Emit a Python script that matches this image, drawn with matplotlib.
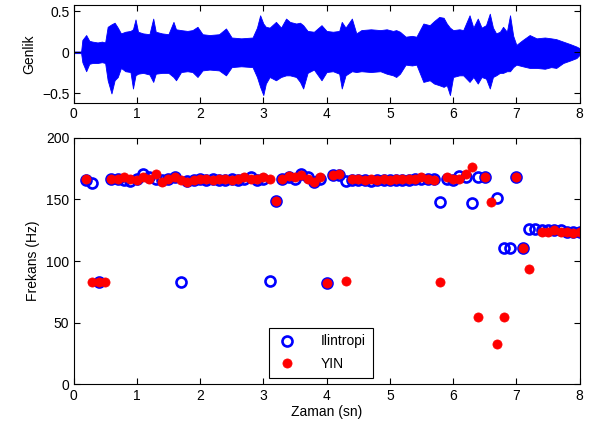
import numpy as np
import matplotlib
matplotlib.use("Agg")
import matplotlib.pyplot as plt

plt.rcParams['font.family'] = ['Liberation Sans', 'DejaVu Sans']
plt.rcParams['font.size'] = 10

# --- waveform envelope (seconds, upper / lower amplitude) ---
wave_t = [0.00, 0.12, 0.14, 0.20, 0.25, 0.30, 0.38, 0.45, 0.50, 0.54,
          0.60, 0.65, 0.70, 0.75, 0.82, 0.90, 0.94, 0.98, 1.02, 1.10,
          1.20, 1.26, 1.30, 1.40, 1.50, 1.58, 1.62, 1.70, 1.80, 1.88,
          1.96, 2.04, 2.15, 2.30, 2.41, 2.50, 2.65, 2.83, 2.90, 2.95,
          3.00, 3.04, 3.10, 3.20, 3.28, 3.36, 3.42, 3.52, 3.58, 3.63,
          3.70, 3.80, 3.92, 4.00, 4.10, 4.20, 4.24, 4.30, 4.40, 4.47,
          4.55, 4.70, 4.85, 4.95, 5.05, 5.10, 5.16, 5.25, 5.35, 5.42,
          5.53, 5.63, 5.70, 5.78, 5.85, 5.90, 5.95, 6.00, 6.10, 6.16,
          6.26, 6.32, 6.39, 6.45, 6.52, 6.58, 6.63, 6.68, 6.74, 6.79,
          6.85, 6.90, 6.95, 7.00, 7.10, 7.21, 7.32, 7.45, 7.55, 7.63,
          7.74, 7.85, 7.95, 8.00]
wave_upper = [0.01, 0.01, 0.15, 0.21, 0.14, 0.13, 0.12, 0.13, 0.12, 0.31,
              0.34, 0.36, 0.30, 0.23, 0.25, 0.26, 0.28, 0.40, 0.25, 0.23,
              0.22, 0.41, 0.25, 0.23, 0.22, 0.37, 0.28, 0.27, 0.26, 0.27,
              0.31, 0.22, 0.21, 0.22, 0.29, 0.18, 0.17, 0.18, 0.30, 0.45,
              0.35, 0.31, 0.30, 0.37, 0.30, 0.41, 0.37, 0.35, 0.36, 0.33,
              0.26, 0.25, 0.33, 0.26, 0.25, 0.26, 0.37, 0.30, 0.41, 0.23,
              0.27, 0.28, 0.27, 0.28, 0.26, 0.27, 0.25, 0.19, 0.20, 0.19,
              0.35, 0.33, 0.38, 0.43, 0.42, 0.35, 0.30, 0.27, 0.28, 0.27,
              0.45, 0.30, 0.41, 0.30, 0.33, 0.47, 0.30, 0.23, 0.25, 0.31,
              0.25, 0.45, 0.20, 0.09, 0.15, 0.21, 0.17, 0.18, 0.17, 0.16,
              0.13, 0.10, 0.07, 0.05]
wave_lower = [-0.01, -0.01, -0.12, -0.23, -0.14, -0.13, -0.13, -0.12, -0.13, -0.34,
              -0.50, -0.34, -0.30, -0.19, -0.23, -0.24, -0.44, -0.28, -0.26, -0.25,
              -0.27, -0.36, -0.26, -0.25, -0.25, -0.30, -0.34, -0.24, -0.23, -0.24,
              -0.30, -0.22, -0.21, -0.22, -0.28, -0.18, -0.17, -0.18, -0.30, -0.42,
              -0.52, -0.38, -0.30, -0.34, -0.30, -0.28, -0.28, -0.30, -0.36, -0.44,
              -0.25, -0.21, -0.34, -0.24, -0.23, -0.26, -0.44, -0.28, -0.23, -0.24,
              -0.23, -0.24, -0.23, -0.26, -0.28, -0.30, -0.26, -0.15, -0.16, -0.15,
              -0.36, -0.34, -0.38, -0.40, -0.42, -0.40, -0.52, -0.30, -0.28, -0.28,
              -0.36, -0.30, -0.38, -0.30, -0.32, -0.44, -0.30, -0.28, -0.25, -0.25,
              -0.23, -0.23, -0.18, -0.15, -0.17, -0.19, -0.19, -0.20, -0.18, -0.19,
              -0.13, -0.10, -0.07, -0.03]

# --- pitch tracks, one value per 0.1 s frame from 0.2 s to 8.0 s (nan = unvoiced) ---
nan = np.nan
frame_t = np.round(np.arange(0.2, 8.0001, 0.1), 1)
f0_ilintropi = [166, 163, 83, nan, 167, 167, 166, 165, 167, 171,
                168, 167, 166, 167, 168, 83, 165, 166, 167, 166,
                167, 166, 166, 167, 166, 167, 168, 166, 167, 84,
                149, 167, 168, 167, 171, 168, 164, 167, 82, 170,
                170, 165, 166, 166, 166, 165, 166, 166, 166, 166,
                166, 166, 167, 167, 167, 167, 148, 167, 166, 169,
                168, 147, 168, 168, nan, 151, 111, 111, 168, 111,
                126, 126, 125, 125, 125, 125, 124, 124, 124]
f0_yin = [167, 83, 83, 83, 167, 167, 168, 167, 166, 168,
          167, 171, 164, 167, 168, 166, 164, 166, 167, 167,
          166, 167, 167, 166, 167, 168, 167, 167, 168, 167,
          149, 167, 169, 168, 170, 167, 164, 168, 82, 170,
          171, 84, 167, 167, 166, 167, 166, 167, 166, 167,
          167, 167, 167, 168, 167, 166, 83, 168, 167, 167,
          171, 176, 55, 168, 148, 33, 55, nan, 168, 111,
          94, nan, 124, 124, 125, 124, 124, 123, 124]

fig = plt.figure(figsize=(5.89, 4.28), dpi=100)
ax1 = fig.add_axes([0.1248, 0.7586, 0.8593, 0.2297])
ax2 = fig.add_axes([0.1248, 0.1019, 0.8593, 0.5760])

# waveform
ax1.fill_between(wave_t, wave_lower, wave_upper, color='#0000ff', lw=0.6)
ax1.set_xlim(0, 8)
ax1.set_ylim(-0.62, 0.575)
ax1.set_yticks([-0.5, 0, 0.5])
ax1.set_yticklabels(['\u22120.5', '0', '0.5'])
ax1.set_xticks(range(0, 9))
ax1.set_ylabel('Genlik')

# pitch estimates
ax2.plot(frame_t, f0_ilintropi, linestyle='none', marker='o', markersize=7.2,
         markerfacecolor='none', markeredgecolor='#0000ff', markeredgewidth=1.9,
         label='Ilintropi')
ax2.plot(frame_t, f0_yin, linestyle='none', marker='o', markersize=6.6,
         markerfacecolor='#ff0000', markeredgecolor='#ff0000', markeredgewidth=0.5,
         label='YIN')
ax2.set_xlim(0, 8)
ax2.set_ylim(0, 200)
ax2.set_xticks(range(0, 9))
ax2.set_yticks([0, 50, 100, 150, 200])
ax2.set_xlabel('Zaman (sn)', labelpad=2)
ax2.set_ylabel('Frekans (Hz)')

leg = ax2.legend(loc='lower left', bbox_to_anchor=(0.387, 0.027), borderaxespad=0,
                 fancybox=False, edgecolor='black', framealpha=1,
                 handlelength=1.6, handletextpad=1.6, borderpad=0.5,
                 labelspacing=0.6, fontsize=10)
leg.get_frame().set_linewidth(0.8)

for ax in (ax1, ax2):
    ax.tick_params(direction='in', top=True, right=True, length=4, width=0.8,
                   labelsize=10, pad=3)
    for s in ax.spines.values():
        s.set_linewidth(0.8)

fig.savefig('out.png', dpi=100)
